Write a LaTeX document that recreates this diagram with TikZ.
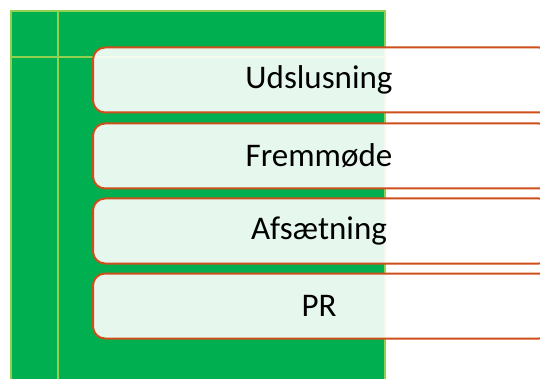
\documentclass[tikz,border=0pt]{standalone}
\usepackage{fontspec}
\setmainfont{Carlito}
\usetikzlibrary{positioning}
\definecolor{panelgreen}{HTML}{00B050}
\definecolor{gridgreen}{HTML}{92D050}
\definecolor{boxred}{HTML}{CF4F1C}
\begin{document}
\begin{tikzpicture}[x=1pt,y=-1pt]
	\useasboundingbox (0,0) rectangle (540,379);
	\clip (0,0) rectangle (540,379);
	% green panel with its grid lines
	\draw[gridgreen, line width=2.5pt, fill=panelgreen] (11,11) rectangle (385,400);
	\draw[gridgreen, line width=2.5pt] (58,11) -- (58,400);
	\draw[gridgreen, line width=2.5pt] (11,57) -- (385,57);
	
	\begin{scope}[every node/.style={draw=boxred,line width=2pt,fill=white,fill opacity=0.9,text opacity=1,rounded corners=12pt,minimum width=458pt,minimum height=65pt,inner sep=0pt,font=\fontsize{33}{40}\selectfont}]
		\node (udsl) at (322,80) {\hspace*{-6pt}Udslusning};
		\node (frem) [below=9pt of udsl] {\hspace*{-6pt}Fremmøde};
		\node (afs) [below=8pt of frem] {\hspace*{-6pt}Afsætning};
		\node (pr) [below=8pt of afs] {\hspace*{-6pt}PR};
	\end{scope}
\end{tikzpicture}
\end{document}
